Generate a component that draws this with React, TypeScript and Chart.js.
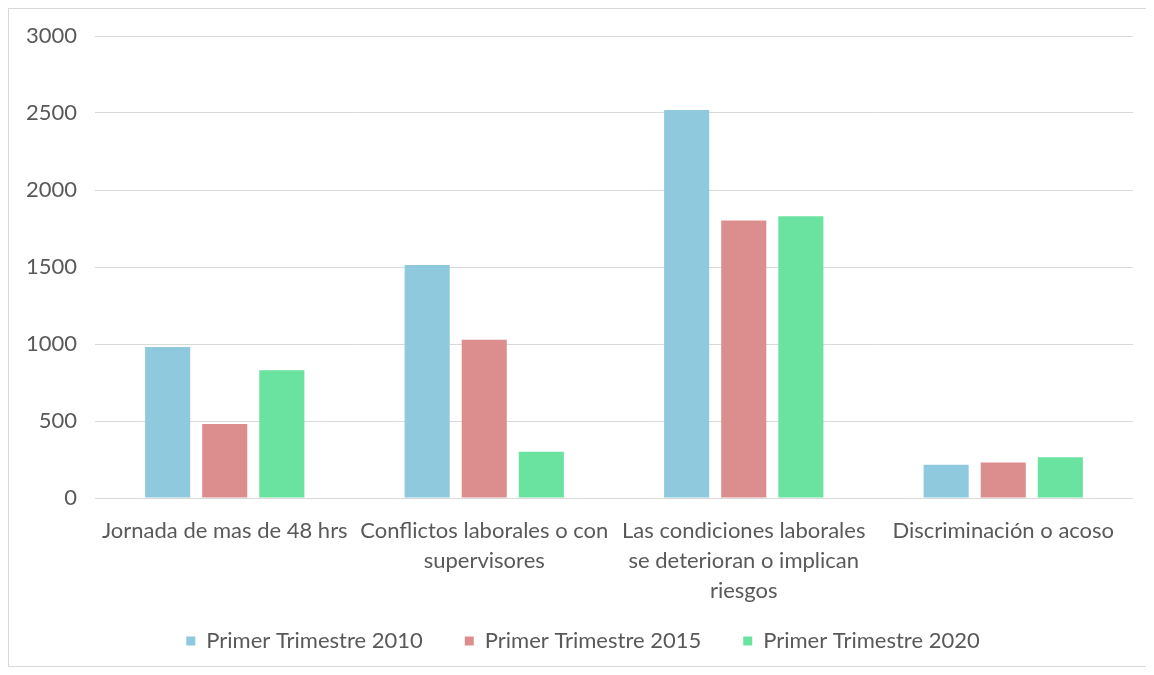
import React, { useEffect, useRef } from "react";
import { Chart, registerables } from "chart.js";

Chart.register(...registerables);

const categories: (string | string[])[] = [
  "Jornada de mas de 48 hrs",
  ["Conflictos laborales o con", "supervisores"],
  ["Las condiciones laborales", "se deterioran o implican", "riesgos"],
  "Discriminación o acoso",
];
const seriesNames = ["Primer Trimestre 2010", "Primer Trimestre 2015", "Primer Trimestre 2020"];
const values2010 = [980, 1513, 2519, 216];
const values2015 = [480, 1028, 1802, 231];
const values2020 = [830, 301, 1829, 265];
const seriesColors = ["#8FC9DD", "#DC8E8E", "#6BE3A0"];
const yTicks = [0, 500, 1000, 1500, 2000, 2500, 3000];

const layoutTweak = {
  id: "layoutTweak",
  afterLayout(chart: any) {
    // let the 3-line category label extend below the axis box without clipping
    if (chart.scales.x) chart.scales.x.bottom += 24;
    if (chart.legend) {
      chart.legend.left += 12;
      chart.legend.right += 12;
      chart.legend.top -= 2;
      chart.legend.bottom -= 2;
    }
  },
};

export default function App() {
  const ref = useRef<HTMLCanvasElement | null>(null);
  useEffect(() => {
    if (!ref.current) return;
    const font = "Lato, 'Open Sans', sans-serif";
    const chart = new Chart(ref.current, {
      type: "bar",
      data: {
        labels: categories,
        datasets: [values2010, values2015, values2020].map((d, i) => ({
          label: seriesNames[i],
          data: d,
          backgroundColor: seriesColors[i],
          borderWidth: 0,
          barPercentage: 0.79,
          categoryPercentage: 0.66,
        })),
      },
      options: {
        responsive: false,
        animation: false,
        layout: { padding: { left: 0, right: 14, top: 27, bottom: 0 } },
        plugins: {
          tooltip: { enabled: false },
          legend: {
            position: "bottom",
            labels: {
              font: { family: font, size: 22 },
              color: "#595959",
              boxWidth: 9,
              boxHeight: 9,
              padding: 42,
            },
          },
        },
        scales: {
          x: {
            grid: { display: false },
            border: { display: false },
            ticks: {
              font: { family: font, size: 22, lineHeight: 1.36 },
              color: "#595959",
              padding: 10,
              maxRotation: 0,
              autoSkip: false,
            },
            afterFit: (s: any) => {
              s.height = 92;
            },
          },
          y: {
            min: 0,
            max: 3000,
            afterBuildTicks: (s: any) => {
              s.ticks = yTicks.map((v) => ({ value: v }));
            },
            grid: { color: "#D9D9D9", drawTicks: false, lineWidth: 1 },
            border: { display: false },
            ticks: {
              font: { family: font, size: 22 },
              color: "#595959",
              padding: 18,
              callback: (v: any) => String(v),
            },
            afterFit: (s: any) => {
              s.width = 86;
              s.paddingTop = 0;
              s.paddingBottom = 0;
            },
          },
        },
      },
      plugins: [layoutTweak],
    });
    return () => chart.destroy();
  }, []);
  return (
    <div
      style={{
        width: 1140,
        height: 657,
        border: "1px solid #D9D9D9",
        background: "#fff",
      }}
    >
      <canvas ref={ref} width={1138} height={655} />
    </div>
  );
}
